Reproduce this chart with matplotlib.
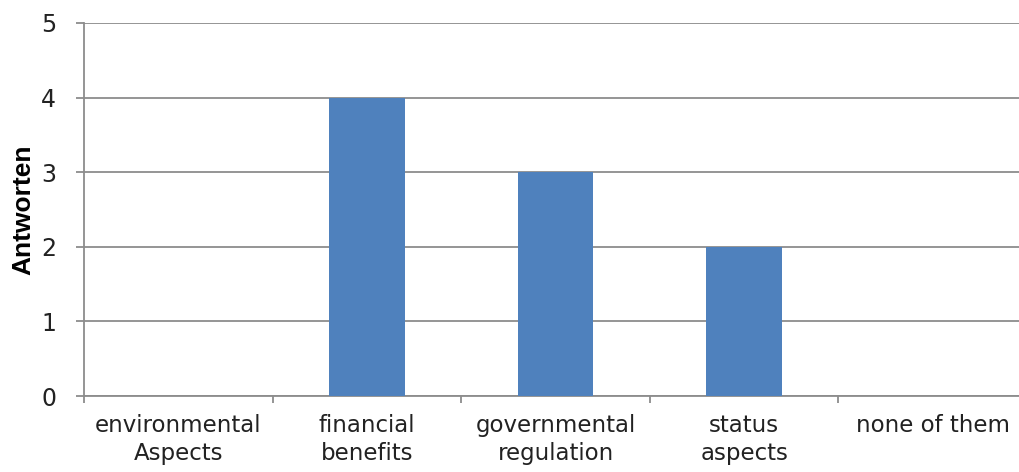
import matplotlib
matplotlib.use("Agg")
import matplotlib.pyplot as plt
from matplotlib import font_manager as fm

categories = ["environmental\nAspects", "financial\nbenefits", "governmental\nregulation", "status\naspects", "none of them"]
values = [0, 4, 3, 2, 0]
yticks = [0, 1, 2, 3, 4, 5]

plt.rcParams['font.family'] = ['DejaVu Sans']

fig = plt.figure(figsize=(10.19, 4.72), dpi=100)
W, H = 1019, 472
left, right, top, bottom = 84, 84 + 5 * 188.6, 23, 396
ax = fig.add_axes([left / W, 1 - bottom / H, (right - left) / W, (bottom - top) / H])

x = list(range(len(categories)))
ax.bar(x, values, width=0.4, color="#4F81BD", zorder=3)
ax.set_xlim(-0.5, len(categories) - 0.5)
ax.set_ylim(0, 5)
ax.set_yticks(yticks)
ax.set_yticklabels([str(v) for v in yticks], fontsize=17, color="#222222")
ax.yaxis.grid(True, color="#8c8c8c", linewidth=1.3, zorder=0)
ax.set_xticks([i - 0.5 for i in range(len(categories) + 1)])
ax.set_xticklabels([])
ax.set_xticks(x, minor=True)
ax.set_xticklabels(categories, minor=True, fontsize=16.5, color="#222222", linespacing=1.3)
ax.tick_params(axis='x', which='minor', length=0, pad=13)
ax.tick_params(axis='x', which='major', length=5, color="#8c8c8c", width=1.3)
ax.tick_params(axis='y', length=6, color="#8c8c8c", width=1.3, pad=14)
for s in ["top", "right"]:
    ax.spines[s].set_visible(False)
for s in ["left", "bottom"]:
    ax.spines[s].set_color("#8c8c8c")
    ax.spines[s].set_linewidth(1.3)

try:
    path = None
    for f in fm.fontManager.ttflist:
        if f.name == "Liberation Sans" and f.weight in (700, "bold") and f.style == "normal":
            path = f.fname
            break
    lab_fp = fm.FontProperties(fname=path, size=19) if path else fm.FontProperties(family="DejaVu Sans", weight="bold", size=17)
except Exception:
    lab_fp = fm.FontProperties(family="DejaVu Sans", weight="bold", size=17)
ax.set_ylabel("Antworten", fontproperties=lab_fp, labelpad=4)

fig.savefig("out.png", dpi=100)
